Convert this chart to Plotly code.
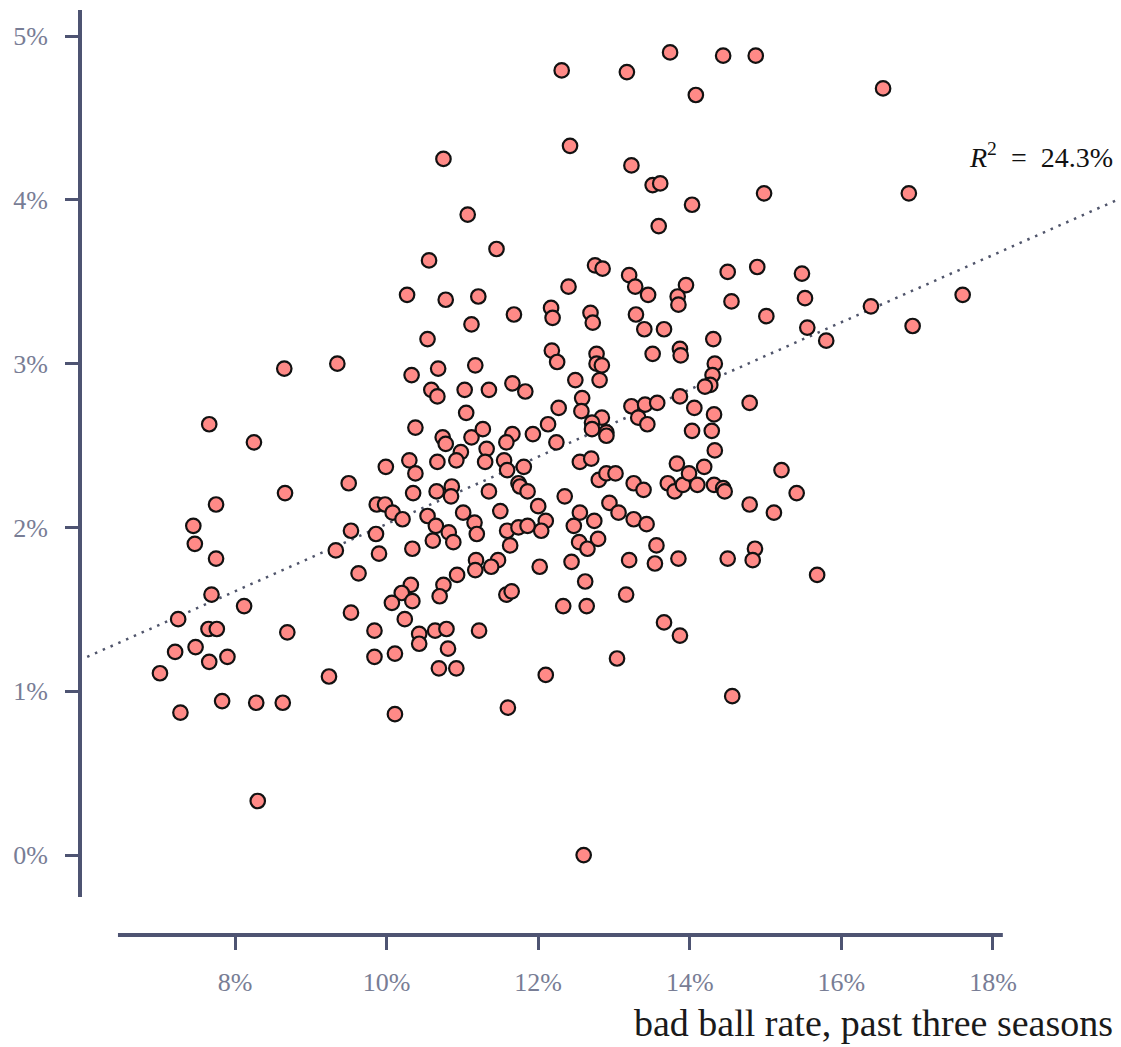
import plotly.graph_objects as go

# ---- data (percent units) ----
bad_ball_rate = [
    12.31, 13.17, 13.74, 14.44, 14.87, 14.08, 16.55, 12.42, 13.23, 10.75,
    11.07, 11.45, 10.56, 10.27, 10.78, 11.21, 12.17, 12.19, 12.40, 11.68,
    13.51, 13.61, 14.03, 14.98, 13.59, 12.75, 12.85, 13.20, 13.28, 13.45,
    13.95, 13.84, 13.85, 14.50, 14.89, 14.55, 12.69, 13.29, 15.01, 16.89,
    15.48, 15.52, 16.39, 17.60, 15.55, 15.80, 16.94, 15.21, 15.41, 15.68,
    8.65, 9.35, 7.66, 8.25, 8.66, 9.50, 7.75, 7.45, 7.47, 7.75,
    9.53, 9.33, 7.69, 8.12, 7.25, 7.65, 7.76, 8.69, 7.21, 7.48,
    7.66, 7.90, 7.01, 9.24, 7.28, 7.83, 8.28, 8.63, 8.30, 9.53,
    10.32, 10.20, 10.07, 10.34, 10.75, 10.70, 10.24, 9.84, 10.43, 10.43,
    10.64, 10.79, 11.22, 10.81, 9.84, 10.11, 10.69, 10.92, 12.10, 10.11,
    11.60, 11.58, 11.65, 12.33, 12.62, 12.64, 13.16, 13.66, 13.87, 13.04,
    14.56, 12.60, 11.12, 10.54, 12.18, 12.25, 10.33, 10.68, 11.17, 11.66,
    11.83, 10.59, 10.67, 11.03, 11.35, 12.49, 12.27, 11.05, 10.38, 10.74,
    10.78, 11.12, 11.27, 11.66, 11.58, 11.93, 12.13, 12.24, 11.32, 10.98,
    10.92, 11.30, 11.55, 11.59, 11.81, 10.30, 10.38, 10.67, 9.99, 10.35,
    10.66, 10.86, 10.85, 11.35, 11.74, 11.76, 11.86, 12.35, 9.87, 9.98,
    10.08, 10.21, 10.54, 10.65, 11.01, 11.16, 11.19, 10.82, 10.88, 10.61,
    11.50, 12.00, 12.10, 12.04, 11.59, 11.74, 11.86, 11.63, 9.86, 9.90,
    10.34, 11.18, 11.47, 11.38, 11.17, 12.02, 9.63, 10.93, 12.72, 13.40,
    13.66, 14.31, 12.77, 12.77, 12.84, 12.81, 13.51, 13.87, 13.88, 14.33,
    14.30, 14.27, 14.20, 13.87, 14.79, 12.58, 12.57, 12.84, 12.71, 12.71,
    12.90, 12.90, 13.23, 13.41, 13.57, 13.32, 13.44, 14.06, 14.32, 14.03,
    14.29, 14.33, 12.55, 12.70, 12.80, 12.90, 13.02, 13.26, 13.39, 13.83,
    13.71, 13.80, 13.91, 13.99, 14.10, 14.19, 14.32, 14.44, 14.46, 14.79,
    15.11, 12.94, 13.06, 12.55, 12.74, 12.47, 13.26, 13.43, 12.54, 12.79,
    12.65, 13.56, 12.44, 13.20, 13.54, 13.85, 14.50, 14.86, 14.83,
]
y_rate = [
    4.79, 4.78, 4.90, 4.88, 4.88, 4.64, 4.68, 4.33, 4.21, 4.25,
    3.91, 3.70, 3.63, 3.42, 3.39, 3.41, 3.34, 3.28, 3.47, 3.30,
    4.09, 4.10, 3.97, 4.04, 3.84, 3.60, 3.58, 3.54, 3.47, 3.42,
    3.48, 3.41, 3.36, 3.56, 3.59, 3.38, 3.31, 3.30, 3.29, 4.04,
    3.55, 3.40, 3.35, 3.42, 3.22, 3.14, 3.23, 2.35, 2.21, 1.71,
    2.97, 3.00, 2.63, 2.52, 2.21, 2.27, 2.14, 2.01, 1.90, 1.81,
    1.98, 1.86, 1.59, 1.52, 1.44, 1.38, 1.38, 1.36, 1.24, 1.27,
    1.18, 1.21, 1.11, 1.09, 0.87, 0.94, 0.93, 0.93, 0.33, 1.48,
    1.65, 1.60, 1.54, 1.55, 1.65, 1.58, 1.44, 1.37, 1.35, 1.29,
    1.37, 1.38, 1.37, 1.26, 1.21, 1.23, 1.14, 1.14, 1.10, 0.86,
    0.90, 1.59, 1.61, 1.52, 1.67, 1.52, 1.59, 1.42, 1.34, 1.20,
    0.97, 0.00, 3.24, 3.15, 3.08, 3.01, 2.93, 2.97, 2.99, 2.88,
    2.83, 2.84, 2.80, 2.84, 2.84, 2.90, 2.73, 2.70, 2.61, 2.55,
    2.51, 2.55, 2.60, 2.57, 2.52, 2.57, 2.63, 2.52, 2.48, 2.46,
    2.41, 2.40, 2.41, 2.35, 2.37, 2.41, 2.33, 2.40, 2.37, 2.21,
    2.22, 2.25, 2.19, 2.22, 2.27, 2.25, 2.22, 2.19, 2.14, 2.14,
    2.09, 2.05, 2.07, 2.01, 2.09, 2.03, 1.96, 1.97, 1.91, 1.92,
    2.10, 2.13, 2.04, 1.98, 1.98, 2.00, 2.01, 1.89, 1.96, 1.84,
    1.87, 1.80, 1.80, 1.76, 1.74, 1.76, 1.72, 1.71, 3.25, 3.21,
    3.21, 3.15, 3.06, 3.00, 2.99, 2.90, 3.06, 3.09, 3.05, 3.00,
    2.93, 2.87, 2.86, 2.80, 2.76, 2.79, 2.71, 2.67, 2.64, 2.60,
    2.58, 2.56, 2.74, 2.75, 2.76, 2.67, 2.63, 2.73, 2.69, 2.59,
    2.59, 2.47, 2.40, 2.42, 2.29, 2.33, 2.33, 2.27, 2.23, 2.39,
    2.27, 2.22, 2.26, 2.33, 2.26, 2.37, 2.26, 2.24, 2.22, 2.14,
    2.09, 2.15, 2.09, 2.09, 2.04, 2.01, 2.05, 2.02, 1.91, 1.93,
    1.87, 1.89, 1.79, 1.80, 1.78, 1.81, 1.81, 1.87, 1.80,
]

# fitted trend line
trend_x = [6.05, 19.64]
trend_y = [1.21, 4.00]
r_squared_label = "24.3%"

x_ticks = [8, 10, 12, 14, 16, 18]
x_tick_labels = ["8%", "10%", "12%", "14%", "16%", "18%"]
y_ticks = [0, 1, 2, 3, 4, 5]
y_tick_labels = ["0%", "1%", "2%", "3%", "4%", "5%"]

# axis spine extents (data units)
x_spine = [6.456, 18.13]
y_spine = [-0.256, 5.159]

SPINE = "#4e5472"
TICKTXT = "#787d95"
FONT = "Liberation Serif"

fig = go.Figure()
fig.add_trace(go.Scatter(
    x=trend_x, y=trend_y, mode="lines",
    line=dict(color="#50556b", width=2.5, dash="2.5px,6px"),
    hoverinfo="skip", showlegend=False,
))
fig.add_trace(go.Scatter(
    x=bad_ball_rate, y=y_rate, mode="markers",
    marker=dict(size=14.5, color="#ff8a87", line=dict(color="#111111", width=2.2)),
    showlegend=False, cliponaxis=False,
))

fig.add_shape(type="line", xref="paper", yref="y", x0=0, x1=0,
              y0=y_spine[0], y1=y_spine[1], line=dict(color=SPINE, width=4))
fig.add_shape(type="line", xref="x", yref="paper", x0=x_spine[0], x1=x_spine[1],
              y0=0, y1=0, line=dict(color=SPINE, width=4))

fig.add_annotation(
    x=trend_x[1] - 0.03, y=4.27, xref="x", yref="y", xanchor="right", yanchor="middle",
    text="<i>R</i><sup>2</sup>  =  " + r_squared_label, showarrow=False,
    font=dict(family=FONT, size=28, color="#111111"),
)
fig.add_annotation(
    x=0.994, y=0, xref="paper", yref="paper", xanchor="right", yanchor="bottom",
    yshift=-111, text="bad ball rate, past three seasons", showarrow=False,
    font=dict(family=FONT, size=38, color="#1a1a1a"),
)

fig.update_layout(
    width=1121, height=1047,
    margin=dict(l=80, r=0, t=10, b=112),
    plot_bgcolor="white", paper_bgcolor="white",
    font=dict(family=FONT, size=26, color=TICKTXT),
)
fig.update_xaxes(
    range=[5.955, 19.689], tickmode="array", tickvals=x_ticks, ticktext=x_tick_labels,
    showgrid=False, zeroline=False, showline=False,
    ticks="outside", ticklen=14, tickwidth=2.5, tickcolor=SPINE,
    tickfont=dict(family=FONT, size=26, color=TICKTXT), ticklabelstandoff=10,
)
fig.update_yaxes(
    range=[-0.488, 5.159], tickmode="array", tickvals=y_ticks, ticktext=y_tick_labels,
    showgrid=False, zeroline=False, showline=False,
    ticks="outside", ticklen=14, tickwidth=2.5, tickcolor=SPINE,
    tickfont=dict(family=FONT, size=26, color=TICKTXT), ticklabelstandoff=12,
)

fig.write_html("out.html")
